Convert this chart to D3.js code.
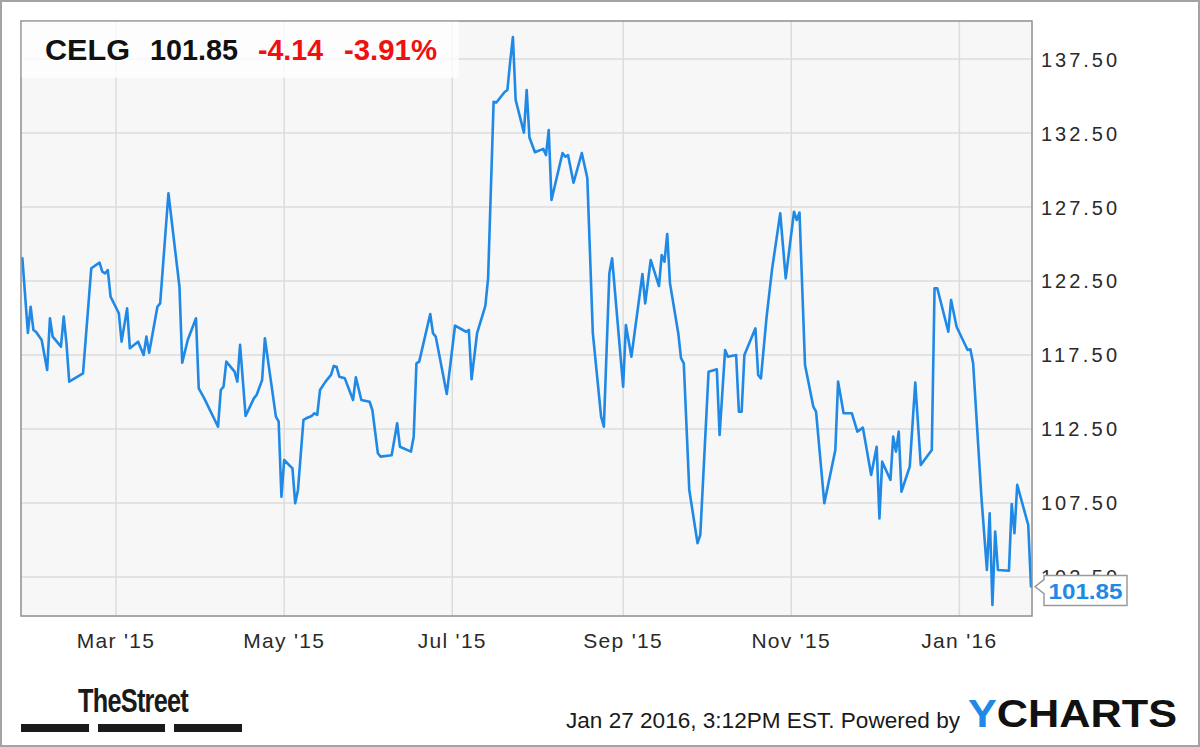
<!DOCTYPE html>
<html><head><meta charset="utf-8">
<script src="https://cdn.jsdelivr.net/npm/d3@7"></script>
<style>
html,body{margin:0;padding:0;background:#fff;}
svg{display:block;font-family:"Liberation Sans",Arial,Helvetica,sans-serif;}
</style>
</head><body>
<svg id="chart" width="1200" height="747"></svg>
<script>
// ---------- data ----------
const symbol = "CELG";
const lastPriceLabel = "101.85";
const changeLabel = "-4.14";
const changePctLabel = "-3.91%";

const dates = [
"2015-01-26","2015-01-28","2015-01-29","2015-01-30","2015-01-31","2015-02-02","2015-02-04","2015-02-05","2015-02-06","2015-02-09",
"2015-02-10","2015-02-11","2015-02-12","2015-02-17","2015-02-20","2015-02-23","2015-02-24","2015-02-25","2015-02-26","2015-02-27",
"2015-03-02","2015-03-03","2015-03-05","2015-03-06","2015-03-09","2015-03-11","2015-03-12","2015-03-13","2015-03-16","2015-03-17",
"2015-03-20","2015-03-24","2015-03-25","2015-03-27","2015-03-30","2015-03-31","2015-04-02","2015-04-07","2015-04-08","2015-04-09",
"2015-04-10","2015-04-13","2015-04-14","2015-04-15","2015-04-17","2015-04-20","2015-04-21","2015-04-23","2015-04-24","2015-04-28",
"2015-04-29","2015-04-30","2015-05-01","2015-05-04","2015-05-05","2015-05-06","2015-05-08","2015-05-09","2015-05-11","2015-05-12",
"2015-05-13","2015-05-14","2015-05-16","2015-05-18","2015-05-19","2015-05-20","2015-05-21","2015-05-23","2015-05-26","2015-05-27",
"2015-05-29","2015-06-01","2015-06-02","2015-06-04","2015-06-05","2015-06-09","2015-06-11","2015-06-12","2015-06-16","2015-06-17",
"2015-06-18","2015-06-19","2015-06-23","2015-06-24","2015-06-25","2015-06-29","2015-07-02","2015-07-06","2015-07-07","2015-07-08",
"2015-07-10","2015-07-13","2015-07-14","2015-07-16","2015-07-17","2015-07-20","2015-07-21","2015-07-22","2015-07-23","2015-07-24",
"2015-07-27","2015-07-28","2015-07-29","2015-07-31","2015-08-03","2015-08-04","2015-08-05","2015-08-06","2015-08-10","2015-08-11",
"2015-08-12","2015-08-14","2015-08-17","2015-08-19","2015-08-21","2015-08-24","2015-08-25","2015-08-27","2015-08-28","2015-09-01",
"2015-09-02","2015-09-04","2015-09-08","2015-09-09","2015-09-11","2015-09-14","2015-09-15","2015-09-16","2015-09-17","2015-09-18",
"2015-09-21","2015-09-22","2015-09-23","2015-09-25","2015-09-28","2015-09-29","2015-10-02","2015-10-05","2015-10-06","2015-10-08",
"2015-10-09","2015-10-12","2015-10-13","2015-10-14","2015-10-15","2015-10-19","2015-10-20","2015-10-21","2015-10-23","2015-10-25",
"2015-10-28","2015-10-30","2015-11-02","2015-11-03","2015-11-04","2015-11-06","2015-11-09","2015-11-10","2015-11-13","2015-11-17",
"2015-11-18","2015-11-20","2015-11-23","2015-11-25","2015-11-27","2015-11-30","2015-12-02","2015-12-03","2015-12-04","2015-12-07",
"2015-12-08","2015-12-09","2015-12-10","2015-12-11","2015-12-14","2015-12-16","2015-12-18","2015-12-22","2015-12-23","2015-12-24",
"2015-12-28","2015-12-29","2015-12-31","2016-01-04","2016-01-05","2016-01-06","2016-01-09","2016-01-11","2016-01-12","2016-01-13",
"2016-01-14","2016-01-15","2016-01-19","2016-01-20","2016-01-21","2016-01-22","2016-01-26","2016-01-27"];

const prices = [
124.03,118.99,120.76,119.19,119.05,118.51,116.49,119.98,118.74,118.06,
120.09,118.29,115.70,116.26,123.36,123.74,123.13,123.02,123.24,121.44,
120.32,118.40,120.65,117.95,118.40,117.50,118.74,117.65,120.76,120.99,
128.43,122.11,116.98,118.51,119.98,115.25,114.57,112.65,115.13,115.36,
117.05,116.37,115.70,118.18,113.38,114.57,114.80,115.81,118.63,113.33,
112.99,107.92,110.40,109.84,107.48,108.38,113.11,113.22,113.38,113.56,
113.45,115.13,115.70,116.15,116.76,116.71,116.03,115.92,114.46,115.99,
114.46,114.34,113.78,110.86,110.63,110.72,112.88,111.30,110.97,111.98,
116.94,117.05,120.27,118.97,118.74,114.86,119.49,119.07,119.19,115.86,
118.97,120.81,122.70,134.61,134.56,135.27,135.41,137.30,138.99,134.73,
132.53,135.41,132.20,131.20,131.43,131.01,132.70,127.97,131.15,130.90,
131.01,129.14,131.15,129.46,118.97,113.33,112.65,123.02,124.03,115.36,
119.53,117.38,122.97,120.99,123.92,122.16,124.26,123.80,125.68,122.34,
118.97,117.28,116.94,108.38,104.78,105.34,116.37,116.53,112.09,117.84,
117.38,117.50,113.67,113.67,117.50,119.30,116.15,115.92,119.98,123.24,
127.07,122.68,127.18,126.62,127.13,116.82,114.01,113.67,107.48,111.08,
115.70,113.56,113.56,112.32,112.59,109.39,111.30,106.46,110.29,109.05,
111.98,110.97,112.32,108.26,109.95,115.63,110.07,111.08,122.01,122.01,
119.07,121.22,119.41,117.84,117.88,116.94,107.92,102.97,106.80,100.61,
105.56,102.97,102.92,107.43,105.45,108.72,106.01,101.85];

const yTickValues = [102.5, 107.5, 112.5, 117.5, 122.5, 127.5, 132.5, 137.5];
const xTickDates = ["2015-03-01","2015-05-01","2015-07-01","2015-09-01","2015-11-01","2016-01-01"];
const xTickLabels = ["Mar '15","May '15","Jul '15","Sep '15","Nov '15","Jan '16"];
const footerStamp = "Jan 27 2016, 3:12PM EST.  Powered by";

// ---------- layout ----------
const W = 1200, H = 747;
const plot = {left: 21, top: 21, right: 1032, bottom: 616};
const blue = "#1f89e5";
const parse = d3.utcParse("%Y-%m-%d");
const data = dates.map((d, i) => ({date: parse(d), value: prices[i]}));

const x = d3.scaleUtc()
  .domain([new Date(Date.UTC(2015,0,25,12)), new Date(Date.UTC(2016,0,27))])
  .range([plot.left, plot.right - 1]);
const y = d3.scaleLinear().domain([99.86, 140.07]).range([plot.bottom, plot.top]);

const svg = d3.select("#chart");

// outer frame
svg.append("rect").attr("x", 1).attr("y", 1).attr("width", W - 2).attr("height", H - 2)
  .attr("fill", "#fff").attr("stroke", "#a3a3a3").attr("stroke-width", 2);

// plot background
svg.append("rect").attr("x", plot.left).attr("y", plot.top)
  .attr("width", plot.right - plot.left).attr("height", plot.bottom - plot.top)
  .attr("fill", "#f7f7f7");

// grid
const grid = svg.append("g").attr("stroke", "#dcdcdc").attr("stroke-width", 1.5);
grid.selectAll("line.h").data(yTickValues).join("line").attr("class", "h")
  .attr("x1", plot.left).attr("x2", plot.right)
  .attr("y1", d => y(d)).attr("y2", d => y(d));
grid.selectAll("line.v").data(xTickDates).join("line").attr("class", "v")
  .attr("x1", d => x(parse(d))).attr("x2", d => x(parse(d)))
  .attr("y1", plot.top).attr("y2", plot.bottom);

// price line
const line = d3.line().x(d => x(d.date)).y(d => y(d.value));
svg.append("path").datum(data).attr("d", line)
  .attr("fill", "none").attr("stroke", blue).attr("stroke-width", 2.6)
  .attr("stroke-linejoin", "round").attr("stroke-linecap", "round");

// plot border
svg.append("rect").attr("x", plot.left).attr("y", plot.top)
  .attr("width", plot.right - plot.left).attr("height", plot.bottom - plot.top)
  .attr("fill", "none").attr("stroke", "#8f8f8f").attr("stroke-width", 1.5);

// header box
svg.append("rect").attr("x", plot.left + 0.75).attr("y", plot.top + 0.75)
  .attr("width", 437).attr("height", 56)
  .attr("fill", "#ffffff").attr("fill-opacity", 0.78);
const header = [
  {t: symbol, x: 45, w: 85, c: "#111"},
  {t: lastPriceLabel, x: 150, w: 88, c: "#111"},
  {t: changeLabel, x: 258, w: 65, c: "#f01010"},
  {t: changePctLabel, x: 344, w: 93, c: "#f01010"}
];
svg.selectAll("text.hdr").data(header).join("text").attr("class", "hdr")
  .attr("x", d => d.x).attr("y", 60)
  .attr("font-size", 29).attr("font-weight", "bold")
  .attr("fill", d => d.c)
  .attr("textLength", d => d.w).attr("lengthAdjust", "spacingAndGlyphs")
  .text(d => d.t);

// right axis labels (the lowest one sits behind the last-value callout, as in the reference)
svg.selectAll("text.yl").data(yTickValues).join("text").attr("class", "yl")
  .attr("x", 1041).attr("y", d => y(d) + 7.5)
  .attr("font-size", 20).attr("fill", "#2a2a2a")
  .attr("textLength", 76).attr("lengthAdjust", "spacing")
  .text(d => d3.format(".2f")(d));

// last value callout
const last = data[data.length - 1];
const ly = y(last.value);
const bx = 1044, bw = 83, bt = ly - 11, bb = ly + 19;
svg.append("path")
  .attr("d", `M${plot.right + 3},${ly} L${bx},${ly - 7} L${bx},${bt} L${bx + bw},${bt} L${bx + bw},${bb} L${bx},${bb} L${bx},${ly + 7} Z`)
  .attr("fill", "#fff").attr("stroke", "#9a9a9a").attr("stroke-width", 1.5);
svg.append("text").attr("x", bx + bw / 2).attr("y", ly + 12)
  .attr("text-anchor", "middle").attr("font-size", 22).attr("font-weight", "bold")
  .attr("fill", blue).attr("textLength", 74).attr("lengthAdjust", "spacingAndGlyphs")
  .text(lastPriceLabel);

// bottom axis labels
svg.selectAll("text.xl").data(xTickDates).join("text").attr("class", "xl")
  .attr("x", d => x(parse(d))).attr("y", 648)
  .attr("text-anchor", "middle").attr("font-size", 21).attr("fill", "#2a2a2a")
  .attr("letter-spacing", 1.3)
  .text((d, i) => xTickLabels[i]);

// footer: TheStreet logo
svg.append("text").attr("x", 78).attr("y", 712)
  .attr("font-size", 34).attr("font-weight", "bold").attr("fill", "#1a1a1a")
  .attr("textLength", 110).attr("lengthAdjust", "spacingAndGlyphs")
  .attr("letter-spacing", -1)
  .text("TheStreet");
const bars = [[21, 89], [98, 165], [174, 242]];
svg.selectAll("rect.bar").data(bars).join("rect").attr("class", "bar")
  .attr("x", d => d[0]).attr("y", 724).attr("width", d => d[1] - d[0]).attr("height", 8)
  .attr("fill", "#1a1a1a");

// footer stamp and YCHARTS
svg.append("text").attr("x", 566).attr("y", 728)
  .attr("font-size", 22).attr("fill", "#1a1a1a")
  .attr("textLength", 394).attr("lengthAdjust", "spacingAndGlyphs")
  .text(footerStamp);
const yc = svg.append("text").attr("x", 968).attr("y", 727)
  .attr("font-size", 39).attr("font-weight", "bold")
  .attr("textLength", 209).attr("lengthAdjust", "spacingAndGlyphs");
yc.append("tspan").attr("fill", blue).text("Y");
yc.append("tspan").attr("fill", "#111").text("CHARTS");
</script>
</body></html>
